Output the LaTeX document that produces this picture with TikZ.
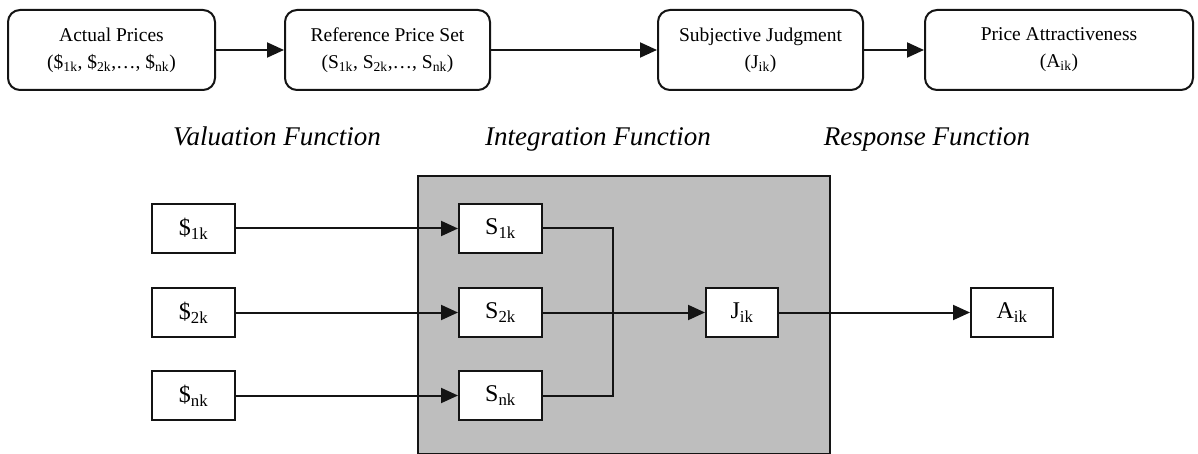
\documentclass[tikz,border=0pt]{standalone}
\usepackage{fontspec}
\setmainfont{Liberation Serif}
\usetikzlibrary{arrows.meta}
\definecolor{panelgrey}{RGB}{190,190,190}
\definecolor{inkline}{RGB}{20,20,20}
\begin{document}
\begin{tikzpicture}[x=1pt,y=-1pt,
  stage/.style={draw=inkline, line width=2pt, rounded corners=12pt,
    minimum height=80pt, align=center, inner sep=0pt,
    font=\fontsize{19.5}{27}\selectfont},
  cell/.style={draw=inkline, line width=2pt, fill=white, minimum height=49pt,
    inner sep=0pt, font=\fontsize{24}{28}\selectfont},
  caption/.style={anchor=base, font=\fontsize{27}{30}\selectfont\itshape},
  link/.style={draw=inkline, line width=2pt, -{Triangle[length=17pt,width=15pt]}},
  joinline/.style={draw=inkline, line width=2pt}]

\useasboundingbox (0,0) rectangle (1198,454);

% top row: the four stages
\node[stage, minimum width=207pt] (actual) at (111.5,50)
  {Actual Prices\\(\$\textsubscript{1k}, \$\textsubscript{2k},\ldots, \$\textsubscript{nk})};
\node[stage, minimum width=205pt] (refset) at (387.5,50)
  {Reference Price Set\\(S\textsubscript{1k}, S\textsubscript{2k},\ldots, S\textsubscript{nk})};
\node[stage, minimum width=205pt] (judg) at (760.5,50)
  {Subjective Judgment\\(J\textsubscript{ik})};
\node[stage, minimum width=268pt] (attr) at (1059,50)
  {Price Attractiveness\\(A\textsubscript{ik})};

\draw[link] (actual.east) -- (refset.west);
\draw[link] (refset.east) -- (judg.west);
\draw[link] (judg.east) -- (attr.west);

% function labels, on a common baseline
\node[caption] (valfn) at (277,146) {Valuation Function};
\node[caption] (intfn) at (598,146) {Integration Function};
\node[caption] (resfn) at (927,146) {Response Function};

% shaded integration panel
\node[draw=inkline, line width=1.6pt, fill=panelgrey, minimum width=412pt,
  minimum height=278pt, inner sep=0pt] (panel) at (624,315) {};

% actual price cells
\node[cell, minimum width=83pt] (d1) at (193.5,228.5) {\$\textsubscript{1k}};
\node[cell, minimum width=83pt] (d2) at (193.5,312.5) {\$\textsubscript{2k}};
\node[cell, minimum width=83pt] (dn) at (193.5,395.5) {\$\textsubscript{nk}};

% reference price cells
\node[cell, minimum width=83pt] (s1) at (500.5,228.5) {S\textsubscript{1k}};
\node[cell, minimum width=83pt] (s2) at (500.5,312.5) {S\textsubscript{2k}};
\node[cell, minimum width=83pt] (sn) at (500.5,395.5) {S\textsubscript{nk}};

% judgment and attractiveness cells
\node[cell, minimum width=72pt] (jik) at (742,312.5) {J\textsubscript{ik}};
\node[cell, minimum width=82pt] (aik) at (1012,312.5) {A\textsubscript{ik}};

\draw[link] (d1.east) -- (s1.west);
\draw[link] (d2.east) -- (s2.west);
\draw[link] (dn.east) -- (sn.west);

% merge of the reference prices into the judgment
\coordinate (merge) at (613,312.5);
\draw[joinline] (s1.east) -| (merge);
\draw[joinline] (sn.east) -| (merge);
\draw[link] (s2.east) -- (jik.west);
\draw[link] (jik.east) -- (aik.west);
\end{tikzpicture}
\end{document}
